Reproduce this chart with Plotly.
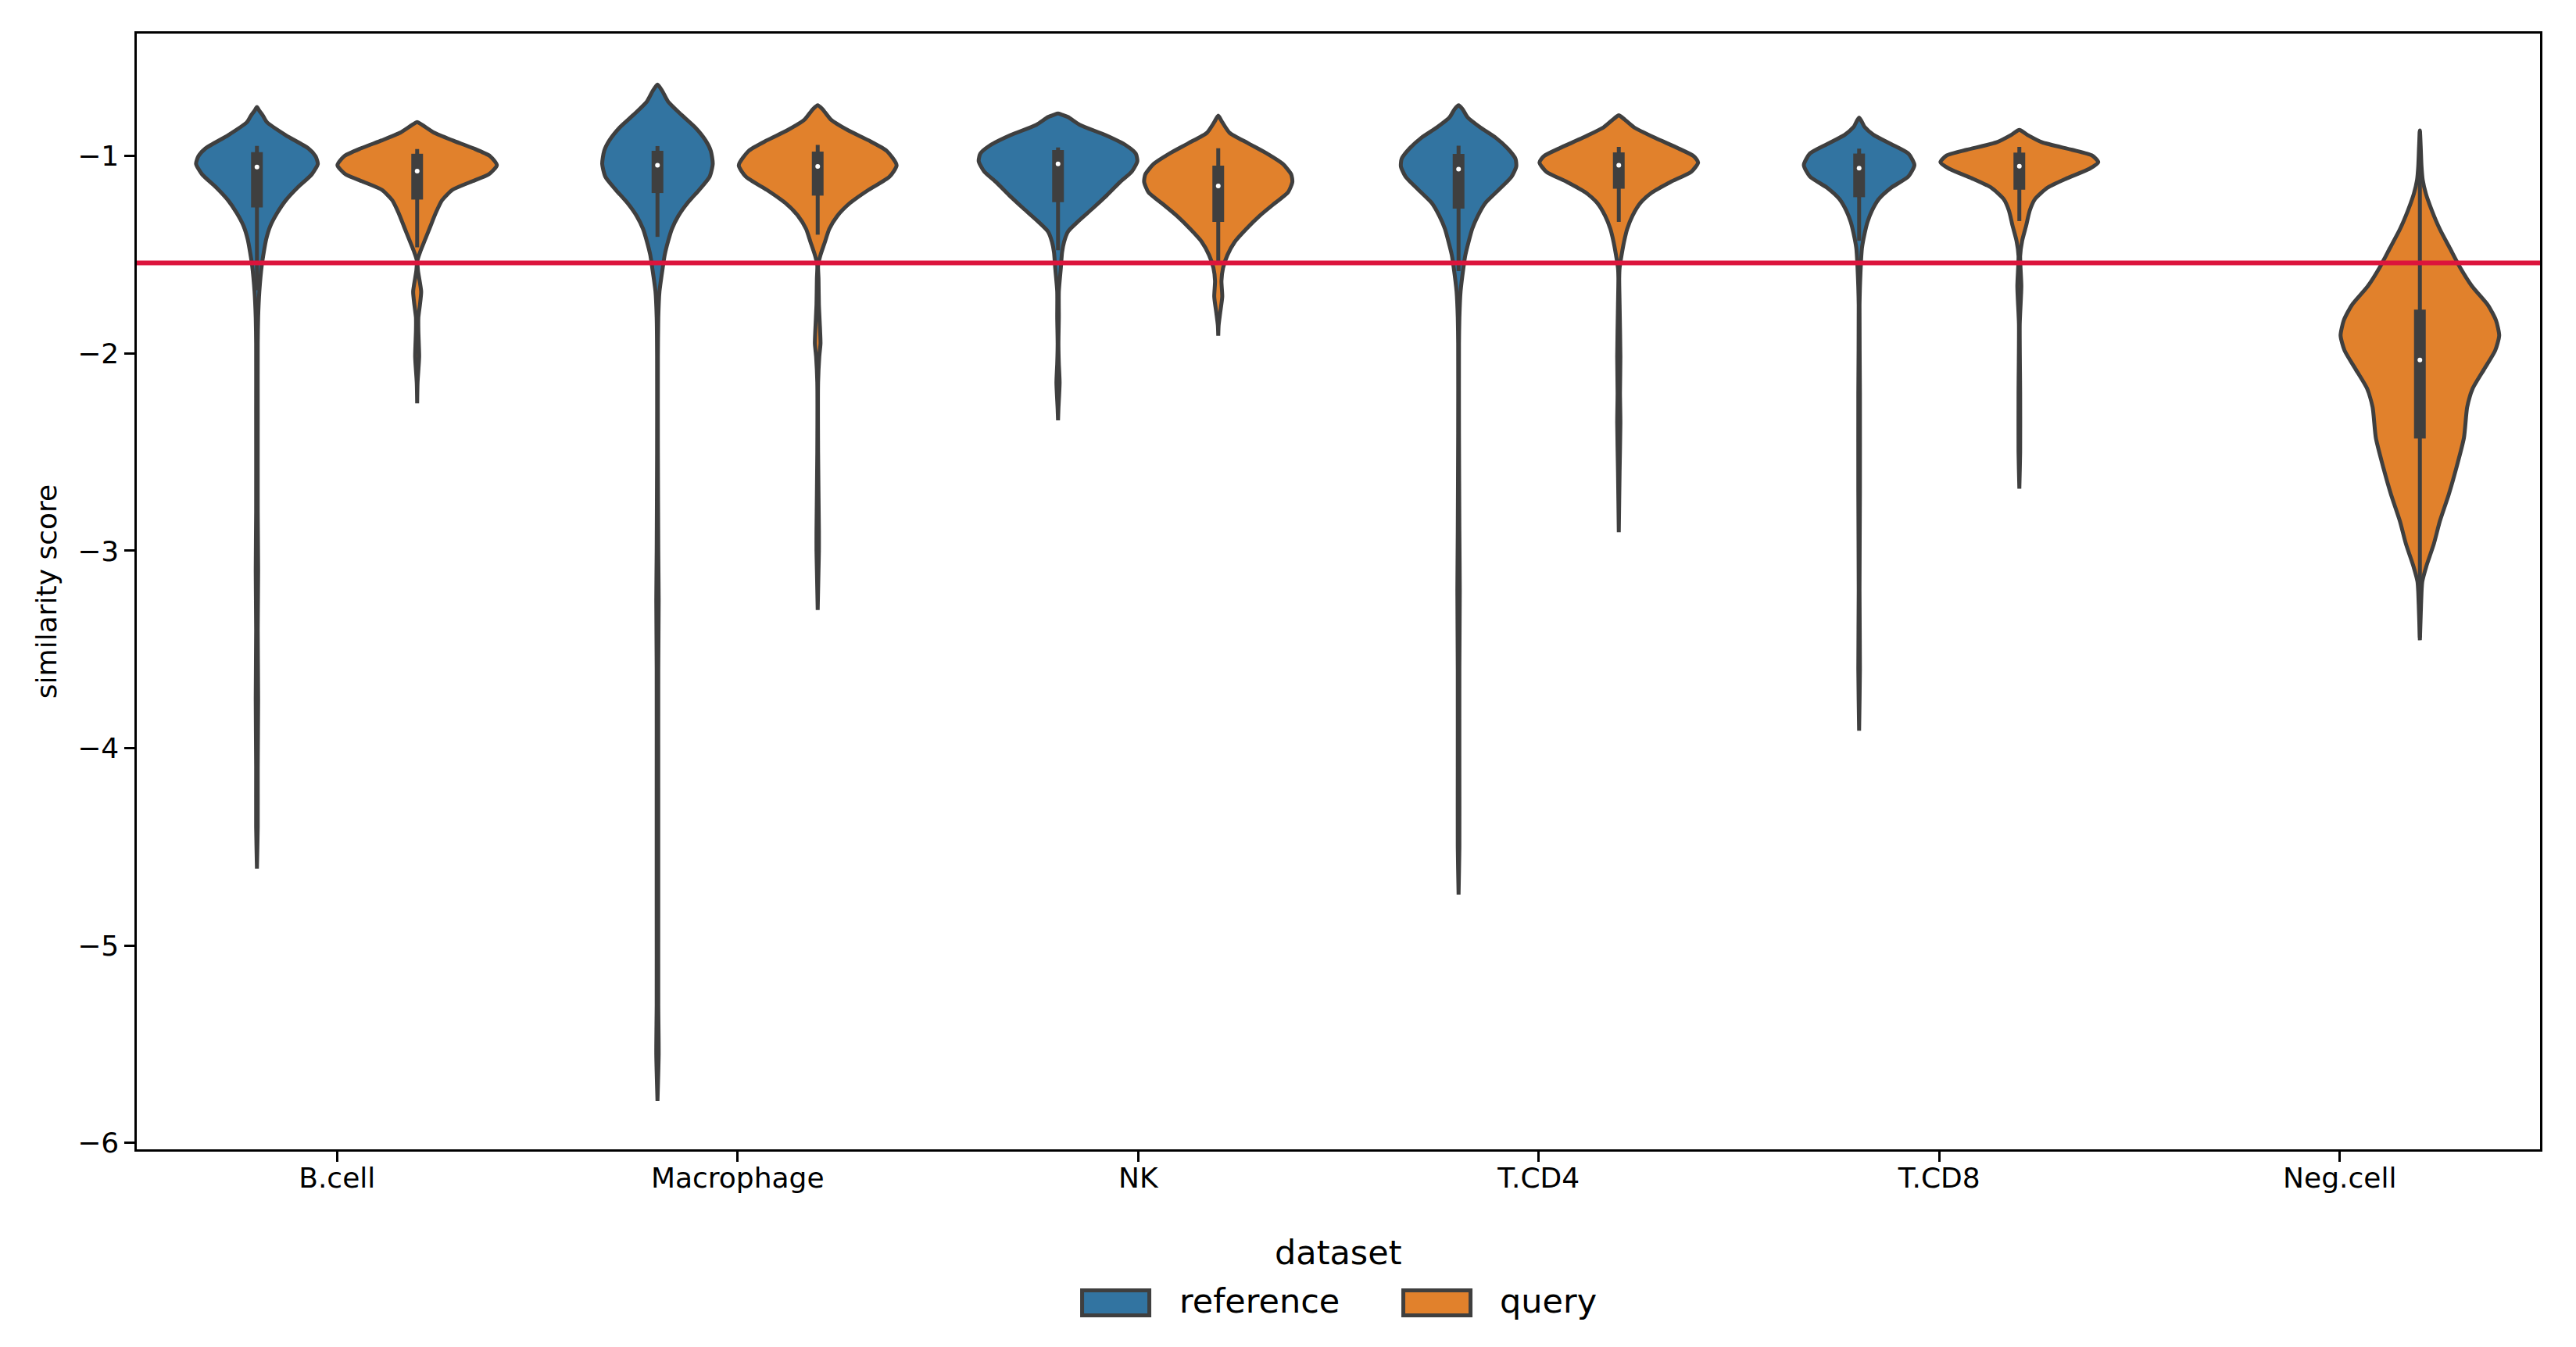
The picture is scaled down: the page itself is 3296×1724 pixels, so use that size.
import plotly.graph_objects as go

# ---------------- data ----------------
CATEGORIES = ["B.cell", "Macrophage", "NK", "T.CD4", "T.CD8", "Neg.cell"]
DATASETS = ["reference", "query"]
COLORS = {"reference": "#3274A1", "query": "#E1812C"}
DODGE = {"reference": -0.2, "query": 0.2}
THRESHOLD = -1.541
Y_TICKS = [-6, -5, -4, -3, -2, -1]
Y_TICK_LABELS = ["\u22126", "\u22125", "\u22124", "\u22123", "\u22122", "\u22121"]

# violin profiles: score levels and half-width (density, in category units)
BCELL_REF_SCORE = [-0.751, -0.770, -0.795, -0.828, -0.894, -0.960, -1.000, -1.039, -1.092, -1.158, -1.224,
                   -1.290, -1.356, -1.422, -1.488, -1.554, -1.686, -1.818, -1.950, -2.30, -2.80, -3.10,
                   -3.40, -3.75, -4.10, -4.40, -4.61]
BCELL_REF_HW = [0, 0.006, 0.015, 0.025, 0.072, 0.128, 0.146, 0.152, 0.137, 0.102, 0.072,
                0.050, 0.033, 0.023, 0.017, 0.012, 0.006, 0.003, 0.002, 0.002, 0.002, 0.003,
                0.002, 0.003, 0.002, 0.002, 0]
BCELL_REF_BOX = [-0.948, -0.980, -1.055, -1.260, -1.680]

BCELL_QRY_SCORE = [-0.827, -0.841, -0.881, -0.920, -0.960, -1.000, -1.046, -1.092, -1.131, -1.171, -1.224,
                   -1.290, -1.356, -1.422, -1.488, -1.527, -1.580, -1.686, -1.752, -1.818, -1.884, -2.016,
                   -2.148, -2.253]
BCELL_QRY_HW = [0, 0.012, 0.042, 0.088, 0.140, 0.182, 0.199, 0.179, 0.133, 0.088, 0.062,
                0.046, 0.033, 0.020, 0.007, 0.001, 0.002, 0.010, 0.007, 0.003, 0.003, 0.005,
                0.001, 0]
BCELL_QRY_BOX = [-0.964, -0.988, -1.076, -1.220, -1.462]

MAC_REF_SCORE = [-0.637, -0.670, -0.722, -0.789, -0.854, -0.920, -0.973, -1.039, -1.105, -1.171, -1.237,
                 -1.303, -1.369, -1.435, -1.501, -1.567, -1.686, -1.818, -2.016, -2.50, -3.00, -3.25,
                 -3.60, -4.20, -4.80, -5.30, -5.55, -5.787]
MAC_REF_HW = [0, 0.012, 0.026, 0.059, 0.094, 0.120, 0.133, 0.138, 0.130, 0.104, 0.075,
              0.052, 0.036, 0.026, 0.018, 0.013, 0.005, 0.002, 0.001, 0.001, 0.002, 0.003,
              0.002, 0.002, 0.002, 0.002, 0.003, 0]
MAC_REF_BOX = [-0.949, -0.973, -1.046, -1.187, -1.409]

MAC_QRY_SCORE = [-0.742, -0.762, -0.815, -0.868, -0.920, -0.973, -1.046, -1.105, -1.171, -1.237, -1.303,
                 -1.369, -1.435, -1.501, -1.554, -1.620, -1.752, -1.884, -1.950, -2.016, -2.148, -2.50,
                 -2.90, -3.00, -3.10, -3.30]
MAC_QRY_HW = [0, 0.012, 0.033, 0.075, 0.127, 0.172, 0.197, 0.179, 0.127, 0.081, 0.049,
              0.029, 0.018, 0.007, 0.001, 0.002, 0.003, 0.006, 0.007, 0.004, 0.001, 0.001,
              0.003, 0.003, 0.002, 0]
MAC_QRY_BOX = [-0.943, -0.977, -1.052, -1.200, -1.398]

NK_REF_SCORE = [-0.784, -0.790, -0.802, -0.841, -0.894, -0.947, -0.987, -1.026, -1.079, -1.131, -1.198,
                -1.264, -1.329, -1.382, -1.435, -1.488, -1.567, -1.686, -1.818, -1.950, -2.050, -2.148,
                -2.280, -2.339]
NK_REF_HW = [0, 0.010, 0.025, 0.054, 0.119, 0.171, 0.194, 0.198, 0.184, 0.155, 0.122,
             0.087, 0.051, 0.025, 0.015, 0.010, 0.007, 0.002, 0.002, 0.001, 0.002, 0.004,
             0.001, 0]
NK_REF_BOX = [-0.956, -0.969, -1.039, -1.233, -1.477]

NK_QRY_SCORE = [-0.795, -0.828, -0.881, -0.934, -0.987, -1.039, -1.092, -1.131, -1.184, -1.237, -1.303,
                -1.369, -1.435, -1.501, -1.567, -1.633, -1.712, -1.791, -1.857, -1.910]
NK_QRY_HW = [0, 0.010, 0.028, 0.074, 0.122, 0.161, 0.182, 0.185, 0.174, 0.142, 0.103,
             0.070, 0.041, 0.023, 0.012, 0.008, 0.010, 0.005, 0.001, 0]
NK_QRY_BOX = [-0.960, -1.048, -1.151, -1.333, -1.550]

TCD4_REF_SCORE = [-0.742, -0.762, -0.802, -0.854, -0.907, -0.960, -1.013, -1.052, -1.105, -1.171, -1.237,
                  -1.303, -1.369, -1.435, -1.501, -1.567, -1.686, -1.818, -1.950, -2.40, -2.90, -3.20,
                  -3.60, -4.10, -4.50, -4.742]
TCD4_REF_HW = [0, 0.010, 0.022, 0.054, 0.093, 0.122, 0.142, 0.144, 0.132, 0.100, 0.067,
               0.048, 0.034, 0.025, 0.017, 0.012, 0.005, 0.002, 0.001, 0.001, 0.002, 0.003,
               0.002, 0.002, 0.002, 0]
TCD4_REF_BOX = [-0.947, -0.989, -1.066, -1.266, -1.583]

TCD4_QRY_SCORE = [-0.793, -0.800, -0.815, -0.854, -0.907, -0.960, -1.000, -1.032, -1.079, -1.131, -1.184,
                  -1.237, -1.303, -1.369, -1.435, -1.501, -1.567, -1.620, -1.752, -2.016, -2.20, -2.35,
                  -2.60, -2.906]
TCD4_QRY_HW = [0, 0.006, 0.015, 0.038, 0.090, 0.148, 0.187, 0.198, 0.181, 0.129, 0.083,
               0.054, 0.034, 0.021, 0.013, 0.007, 0.002, 0.001, 0.002, 0.004, 0.003, 0.004,
               0.002, 0]
TCD4_QRY_BOX = [-0.953, -0.981, -1.046, -1.165, -1.333]

TCD8_REF_SCORE = [-0.805, -0.853, -0.892, -0.939, -0.987, -1.045, -1.103, -1.160, -1.218, -1.276, -1.333,
                  -1.390, -1.467, -1.563, -1.755, -2.20, -2.70, -3.20, -3.60, -3.912]
TCD8_REF_HW = [0, 0.014, 0.036, 0.080, 0.123, 0.138, 0.123, 0.080, 0.049, 0.032, 0.021,
               0.014, 0.007, 0.004, 0.001, 0.002, 0.002, 0.001, 0.002, 0]
TCD8_REF_BOX = [-0.962, -0.987, -1.061, -1.208, -1.429]

TCD8_QRY_SCORE = [-0.867, -0.892, -0.930, -0.968, -0.997, -1.030, -1.064, -1.112, -1.160, -1.218, -1.276,
                  -1.352, -1.429, -1.506, -1.659, -1.851, -2.20, -2.50, -2.685]
TCD8_QRY_HW = [0, 0.020, 0.057, 0.132, 0.182, 0.197, 0.175, 0.119, 0.070, 0.039, 0.026,
               0.017, 0.007, 0.002, 0.005, 0.001, 0.002, 0.002, 0]
TCD8_QRY_BOX = [-0.953, -0.982, -1.051, -1.170, -1.329]

NEG_QRY_SCORE = [-0.870, -0.950, -1.050, -1.120, -1.190, -1.276, -1.371, -1.467, -1.563, -1.659, -1.755,
                 -1.832, -1.909, -1.985, -2.081, -2.177, -2.273, -2.427, -2.580, -2.715, -2.849, -2.964,
                 -3.079, -3.156, -3.213, -3.329, -3.453]
NEG_QRY_HW = [0, 0.002, 0.004, 0.007, 0.015, 0.030, 0.050, 0.075, 0.100, 0.130, 0.170,
              0.190, 0.198, 0.188, 0.160, 0.132, 0.118, 0.110, 0.091, 0.072, 0.050, 0.035,
              0.016, 0.006, 0.004, 0.002, 0]
NEG_QRY_BOX = [-0.875, -1.778, -2.033, -2.431, -3.440]

VIOLINS = [
    ("B.cell", "reference", BCELL_REF_SCORE, BCELL_REF_HW, BCELL_REF_BOX),
    ("B.cell", "query", BCELL_QRY_SCORE, BCELL_QRY_HW, BCELL_QRY_BOX),
    ("Macrophage", "reference", MAC_REF_SCORE, MAC_REF_HW, MAC_REF_BOX),
    ("Macrophage", "query", MAC_QRY_SCORE, MAC_QRY_HW, MAC_QRY_BOX),
    ("NK", "reference", NK_REF_SCORE, NK_REF_HW, NK_REF_BOX),
    ("NK", "query", NK_QRY_SCORE, NK_QRY_HW, NK_QRY_BOX),
    ("T.CD4", "reference", TCD4_REF_SCORE, TCD4_REF_HW, TCD4_REF_BOX),
    ("T.CD4", "query", TCD4_QRY_SCORE, TCD4_QRY_HW, TCD4_QRY_BOX),
    ("T.CD8", "reference", TCD8_REF_SCORE, TCD8_REF_HW, TCD8_REF_BOX),
    ("T.CD8", "query", TCD8_QRY_SCORE, TCD8_QRY_HW, TCD8_QRY_BOX),
    ("Neg.cell", "query", NEG_QRY_SCORE, NEG_QRY_HW, NEG_QRY_BOX),
]

# ---------------- figure ----------------
EDGE = "#3F3F3F"
FONT = "DejaVu Sans"
W, H = 3296, 1724
OFF = 8  # page body margin in the browser
# plot-area edges in window pixels
PL, PR, PT, PB = 175.4, 3250.5, 43.2, 1471.4
ML = PL - OFF
MT = PT - OFF
MR = W + OFF - PR
MB = H + OFF - PB

fig = go.Figure()

for cat, ds, score, hw, box in VIOLINS:
    c = CATEGORIES.index(cat) + DODGE[ds]
    xs = [c + w for w in hw] + [c - w for w in reversed(hw)]
    ys = list(score) + list(reversed(score))
    fig.add_trace(go.Scatter(
        x=xs, y=ys, mode="lines", fill="toself", fillcolor=COLORS[ds],
        line=dict(color=EDGE, width=5, shape="spline", smoothing=0.6),
        showlegend=False, hoverinfo="skip"))
    whi, q3, med, q1, wlo = box
    fig.add_trace(go.Scatter(x=[c, c], y=[whi, wlo], mode="lines",
                             line=dict(color=EDGE, width=5), showlegend=False, hoverinfo="skip"))
    fig.add_trace(go.Scatter(x=[c, c], y=[q3, q1], mode="lines",
                             line=dict(color=EDGE, width=15), showlegend=False, hoverinfo="skip"))
    fig.add_trace(go.Scatter(x=[c], y=[med], mode="markers",
                             marker=dict(color="white", size=6, line=dict(width=0)),
                             showlegend=False, hoverinfo="skip"))

fig.add_shape(type="line", xref="paper", x0=0, x1=1, yref="y", y0=THRESHOLD, y1=THRESHOLD,
              line=dict(color="crimson", width=6), layer="above")

# legend drawn in paper space (positions given in window pixels)
pw = PR - PL
ph = PB - PT
def px_x(p):
    return (p - PL) / pw
def px_y(p):
    return (PB - p) / ph

fig.add_annotation(x=px_x(1713), y=px_y(1603), xref="paper", yref="paper", text="dataset",
                   showarrow=False, xanchor="center", yanchor="middle",
                   font=dict(family=FONT, size=43, color="black"))
LEGEND_X = {"reference": (1385, 1507), "query": (1796, 1917)}
for ds in DATASETS:
    x0, tx = LEGEND_X[ds]
    fig.add_shape(type="rect", xref="paper", yref="paper",
                  x0=px_x(x0), x1=px_x(x0 + 86), y0=px_y(1652), y1=px_y(1684),
                  fillcolor=COLORS[ds], line=dict(color=EDGE, width=5))
    fig.add_annotation(x=px_x(tx), y=px_y(1665), xref="paper", yref="paper", text=ds,
                       showarrow=False, xanchor="left", yanchor="middle",
                       font=dict(family=FONT, size=43, color="black"))

fig.update_layout(
    width=W, height=H,
    margin=dict(l=ML, r=MR, t=MT, b=MB, pad=0),
    paper_bgcolor="white", plot_bgcolor="white",
    font=dict(family=FONT, size=36, color="black"),
    showlegend=False,
    xaxis=dict(range=[-0.5, 5.5], tickmode="array", tickvals=list(range(len(CATEGORIES))),
               ticktext=CATEGORIES, ticks="outside", ticklen=12.6, tickwidth=2.9, tickcolor="black",
               showline=True, linecolor="black", linewidth=2.9, mirror=True,
               showgrid=False, zeroline=False, tickfont=dict(family=FONT, size=36),
               ticklabelstandoff=-10),
    yaxis=dict(range=[-6.033, -0.379], tickmode="array", tickvals=Y_TICKS, ticktext=Y_TICK_LABELS,
               ticks="outside", ticklen=12.6, tickwidth=2.9, tickcolor="black",
               showline=True, linecolor="black", linewidth=2.9, mirror=True,
               showgrid=False, zeroline=False, tickfont=dict(family=FONT, size=36),
               title=dict(text="similarity score", font=dict(family=FONT, size=36), standoff=16)),
)

fig.write_html("out.html")
